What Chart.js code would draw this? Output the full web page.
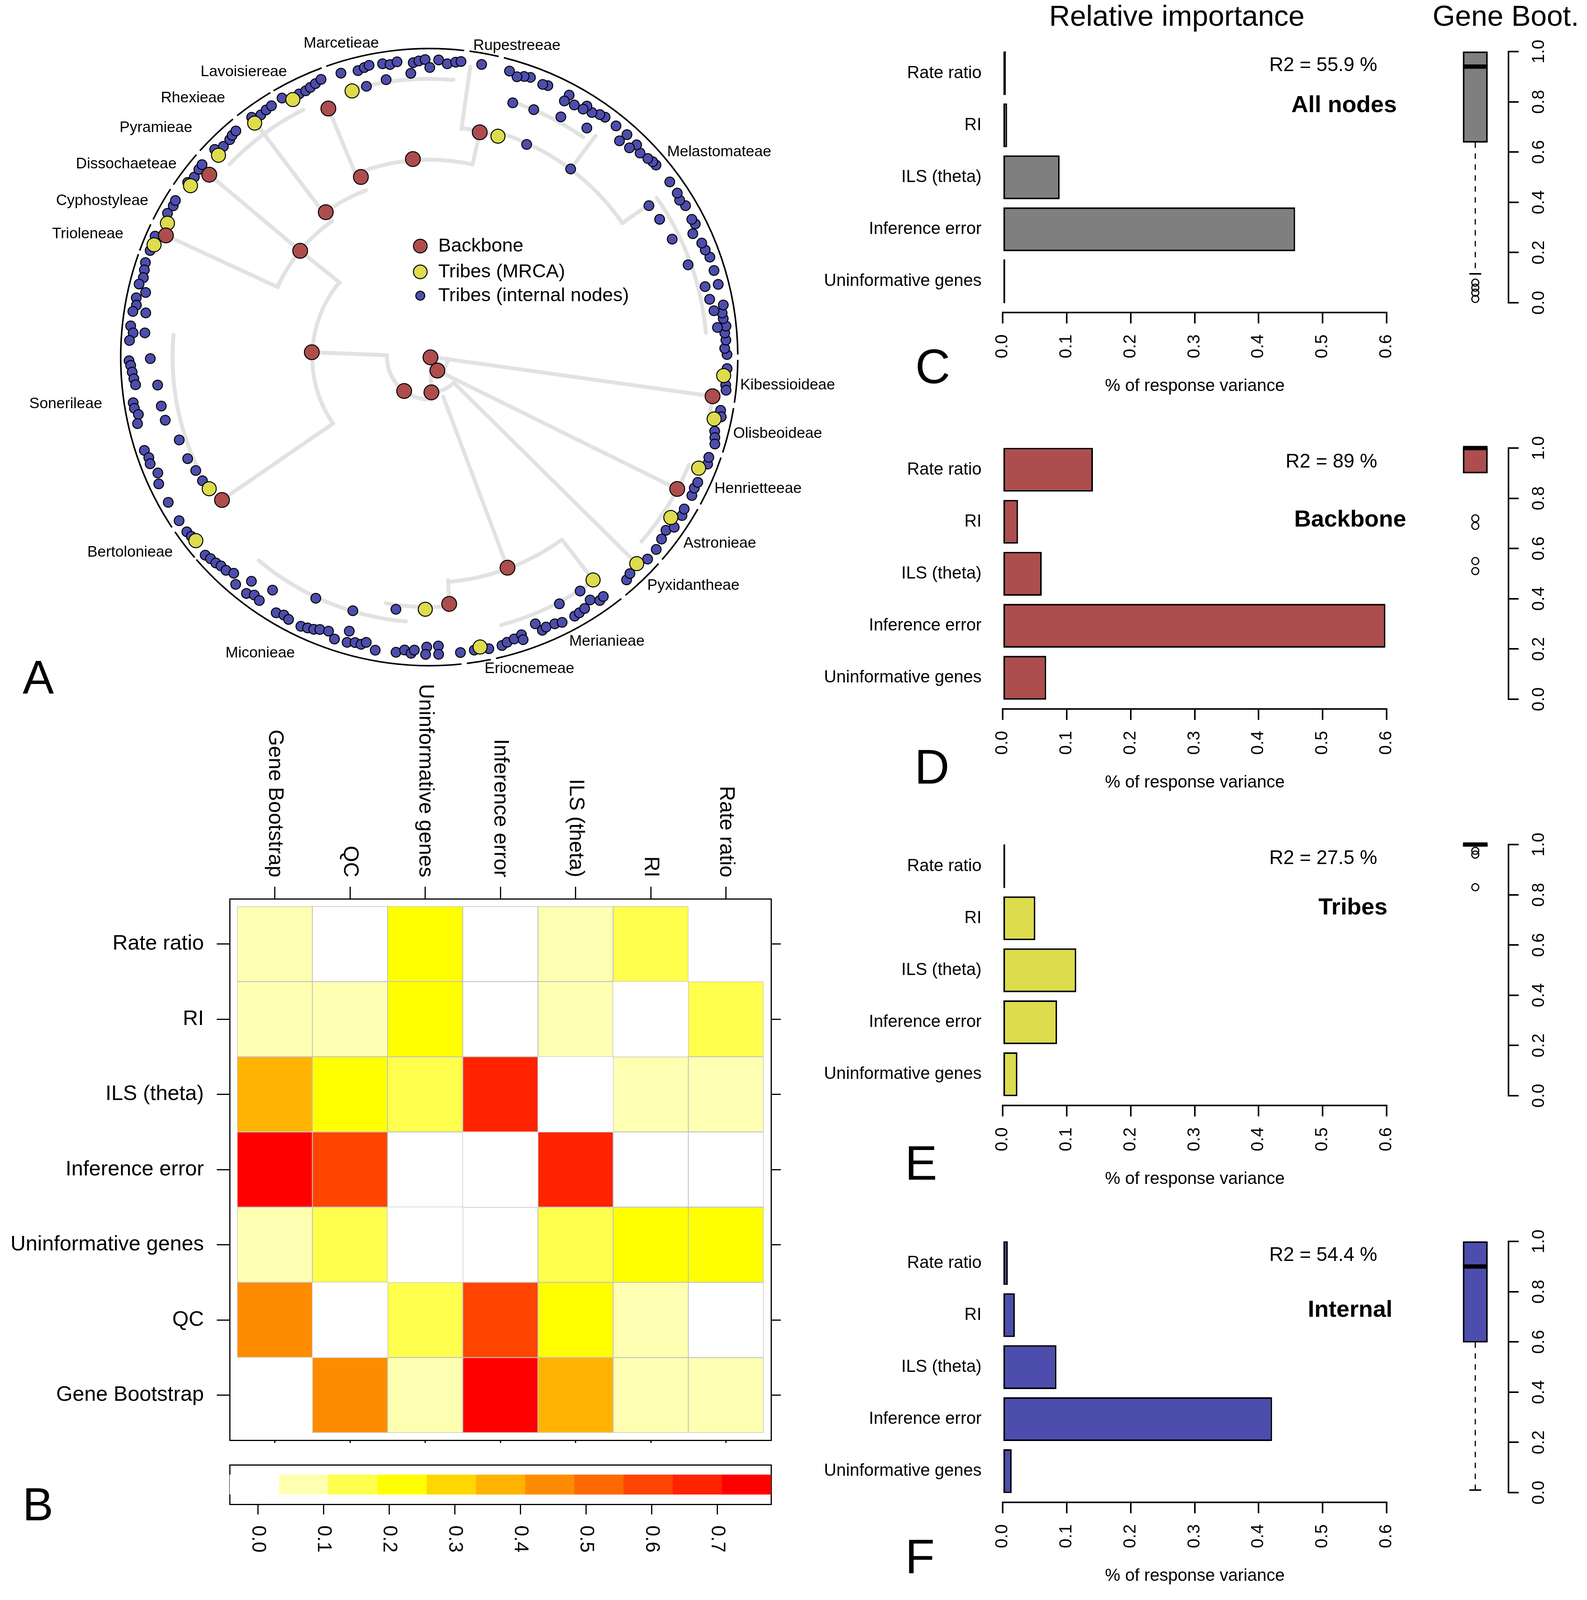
<!DOCTYPE html>
<html><head><meta charset="utf-8">
<script src="https://cdn.jsdelivr.net/npm/chart.js@4.4.1/dist/chart.umd.min.js"></script>
<style>
html,body{margin:0;padding:0;background:#fff;}
body{width:4063px;height:4946px;position:relative;overflow:hidden;}
canvas{position:absolute;}
</style></head><body>
<script>
// ================= DATA =================
// --- Panel C-F: relative importance ---
const barCategories = ['Rate ratio','RI','ILS (theta)','Inference error','Uninformative genes'];
const importanceAll = [0.005, 0.007, 0.089, 0.457, 0.004];
const importanceBackbone = [0.141, 0.024, 0.061, 0.598, 0.068];
const importanceTribes = [0.004, 0.051, 0.115, 0.085, 0.023];
const importanceInternal = [0.008, 0.019, 0.084, 0.421, 0.014];
const r2Text = ['R2 = 55.9 %', 'R2 = 89 %', 'R2 = 27.5 %', 'R2 = 54.4 %'];
const nodeSets = ['All nodes', 'Backbone', 'Tribes', 'Internal'];
// gene bootstrap box stats: [lower whisker, Q1, median, Q3, upper whisker]
const bootAll = [0.115, 0.638, 0.94, 1.0, 1.0];
const bootBackbone = [0.9, 0.9, 1.0, 1.0, 1.0];
const bootTribes = [0.995, 0.995, 1.0, 1.0, 1.0];
const bootInternal = [0.01, 0.598, 0.90, 1.0, 1.0];
const outAll = [0.08, 0.06, 0.04, 0.015];
const outBackbone = [0.72, 0.69, 0.55, 0.51];
const outTribes = [0.975, 0.96, 0.83];
const outInternal = [];

// --- Panel B: correlation heatmap ---
const hmRowNames = ['Rate ratio','RI','ILS (theta)','Inference error','Uninformative genes','QC','Gene Bootstrap'];
const hmColNames = ['Gene Bootstrap','QC','Uninformative genes','Inference error','ILS (theta)','RI','Rate ratio'];
const corRateRatio = [0.06, 0.01, 0.23, 0.00, 0.08, 0.16, null];
const corRI        = [0.05, 0.09, 0.24, 0.01, 0.07, null, 0.16];
const corILS       = [0.38, 0.21, 0.15, 0.68, null, 0.07, 0.08];
const corInfErr    = [0.75, 0.61, 0.02, null, 0.68, 0.01, 0.00];
const corUninf     = [0.08, 0.13, null, 0.02, 0.15, 0.24, 0.23];
const corQC        = [0.45, null, 0.13, 0.61, 0.21, 0.09, 0.01];
const corGeneBoot  = [null, 0.45, 0.08, 0.75, 0.38, 0.05, 0.06];
const hmBreaks = [-0.043, 0.032, 0.107, 0.182, 0.257, 0.332, 0.407, 0.482, 0.557, 0.632, 0.707, 0.782];
const hmColors = ['#ffffff','#ffffb2','#ffff4d','#ffff00','#ffd700','#ffb300','#ff8c00','#ff6900','#ff4500','#ff2300','#ff0000'];

// --- Panels G-K: gene bootstrap vs predictors (backbone nodes) ---
const gbBoot  = [1,1,1,1,1,1,1,1,1,1,1, 0.99, 0.93, 0.90, 0.72, 0.69, 0.55, 0.51];
const xUninf  = [0, 0, 0, 0.005, 0.014, 0.02, 0.059, 0.081, 0.151, 0.321, 0.65, 0.511, 0, 0, 0, 0.25, 0.081, 0.65];
const xInfErr = [0, 0, 0, 0.003, 0.009, 0.012, 0.039, 0.051, 0.071, 0.09, 0.045, 0.27, 0.18, 0.20, 0.21, 0.429, 0.27, 0.551];
const xRate   = [-0.514, -0.51, -0.479, -0.39, -0.375, -0.323, -0.303, -0.30, -0.216, -0.21, -0.157, -0.427, -0.167, -0.167, -0.038, 0.642, -0.177, -0.209];
const xRI     = [0.006, 0.071, 0.075, 0.082, 0.114, 0.129, 0.371, 0.511, 0.53, 0.672, 0.747, 0.365, 1.0, 0.468, 0.139, 0.0, 0.105, 0.506];
const xILS    = [0.012, 0.013, 0.015, 0.017, 0.02, 0.022, 0.024, 0.026, 0.035, 0.103, 0.332, 0.07, 0.04, 0.038, 0.0335, 0.165, 0.082, 0.18];
// linear fits [intercept, slope]
const fitUninf = [0.938, -0.205];
const fitInfErr = [1.026, -0.888];
const fitRate = [0.824, -0.338];
const fitRI = [0.881, 0.0742];
const fitILS = [0.952, -0.654];

// --- Panel A: circular tree, nodes as [angle (deg, clockwise from top), radius (fraction of ring)] ---
const backboneNodes = [[100,0.004],[148.8,0.051],[-143.6,0.137],[176.5,0.115],[-87.6,0.381],[-50.4,0.543],[-35.4,0.579],[-20.7,0.627],[-4.7,0.647],[-22.0,0.873],[12.6,0.750],[-50.2,0.928],[-65.1,0.941],[-124.7,0.817],[175.4,0.806],[159.7,0.731],[118.1,0.911],[97.9,0.927]];
const mrcaNodes = [[-16.1,0.902],[-27.8,0.948],[-36.6,0.949],[-46.1,0.948],[-54.2,0.954],[-62.8,0.954],[-67.7,0.964],[-121.0,0.832],[-128.3,0.964],[-179.1,0.821],[170.1,0.958],[143.8,0.899],[135.0,0.951],[123.7,0.941],[112.5,0.945],[102.3,0.945],[93.6,0.956],[17.2,0.753]];
const ndMarcetieae = [[-17.2,.968],[-13.9,.961],[-12.6,.966],[-11.6,.970],[-9.0,.967],[-7.6,.961],[-6.2,.967],[-3.1,.960],[-2.0,.965],[-0.8,.969],[0.1,.943],[1.8,.968],[3.5,.957],[5.1,.964],[6.1,.968],[-3.7,.926],[-8.8,.914],[-13.0,.905]];
const ndLavoisiereae = [[-29.5,.969],[-26.2,.955],[-24.8,.955],[-23.7,.959],[-22.5,.964],[-21.2,.970]];
const ndRhexieae = [[-36.4,.970],[-34.7,.959],[-33.3,.963],[-32.0,.965]];
const ndPyramieae = [[-45.8,.970],[-44.2,.957],[-42.4,.959],[-41.5,.964],[-40.4,.967]];
const ndDissochaeteae = [[-54.0,.968],[-52.4,.961],[-50.7,.965],[-49.6,.967]];
const ndCyphostyleae = [[-61.1,.969],[-59.3,.965],[-58.2,.968]];
const ndTrioleneae = [[-69.0,.969],[-66.1,.972]];
const ndSonerileae = [[-71.5,.970],[-72.9,.966],[-74.4,.962],[-75.8,.970],[-77.1,.943],[-78.5,.969],[-79.9,.964],[-81.2,.972],[-84.0,.973],[-85.3,.963],[-86.8,.973],[-90.7,.973],[-91.6,.968],[-92.9,.964],[-94.2,.960],[-95.4,.956],[-98.8,.971],[-99.9,.970],[-101.2,.961],[-102.9,.970],[-108.2,.972],[-109.8,.966],[-111.0,.969],[-113.2,.957],[-115.2,.969],[-119.2,.969],[-123.3,.970],
  [-81.1,.930],[-85.1,.925],[-90.3,.904],[-95.9,.885],[-100.4,.883],[-103.5,.880],[-108.4,.854],[-112.9,.850],[-116.0,.842],[-118.7,.838]];
const ndBertolonieae = [[-125.9,.970],[-127.1,.967]];
const ndMiconieae = [[-131.6,.971],[-132.8,.966],[-134.1,.963],[-135.2,.958],[-136.5,.957],[-138.0,.947],[-139.7,.970],[-142.4,.971],[-143.8,.960],[-145.2,.965],[-149.2,.969],[-150.7,.963],[-151.9,.968],[-154.6,.970],[-155.9,.966],[-157.1,.962],[-158.2,.955],[-159.9,.950],[-161.5,.968],[-164.0,.966],[-165.5,.960],[-166.7,.961],[-167.6,.951],[-169.6,.970],[-173.6,.967],[-175.2,.957],[-176.5,.966],[-177.1,.955],[-179.5,.944],[-179.3,.968],[178.2,.941],[178.2,.968],[174.0,.967],
  [-141.7,.930],[-146.2,.913],[-154.9,.867],[-163.8,.929],[-163.3,.862],[-172.5,.828]];
const ndEriocnemeae = [[171.3,.965],[168.5,.969]];
const ndMerianieae = [[165.9,.968],[164.8,.962],[163.3,.958],[161.7,.952],[161.7,.969],[158.4,.934],[157.6,.962],[156.7,.957],[154.9,.959],[153.5,.965],[150.8,.966],[149.7,.964],[148.4,.961],[146.6,.947],[145.1,.966],[144.1,.962],[152.3,.907],[147.3,.905]];
const ndPyxidantheae = [[138.6,.967],[137.3,.959],[132.9,.966]];
const ndAstronieae = [[130.4,.966],[128.2,.958],[126.3,.952],[124.9,.968],[122.2,.968],[120.9,.963]];
const ndHenrietteeae = [[117.9,.963],[116.4,.959],[115.1,.961],[111.1,.967],[109.8,.963]];
const ndOlisbeoideae = [[104.6,.956],[105.8,.962],[107.0,.968],[100.4,.960],[101.6,.966]];
const ndKibessioideae = [[95.4,.965],[96.4,.968],[92.2,.966]];
const ndMelastomateae = [[89.5,.965],[88.3,.958],[86.7,.963],[85.3,.961],[84.0,.967],[82.5,.961],[81.4,.960],[79.9,.968],[80.7,.935],[75.8,.966],[73.0,.965],[70.3,.966],[68.7,.960],[67.2,.958],[64.8,.944],[63.3,.965],[62.2,.962],[59.3,.966],[57.8,.959],[56.4,.965],[53.8,.966],[49.6,.965],[48.7,.964],[47.6,.959],[45.8,.953],[44.2,.964],[41.5,.967],[38.8,.966],[43.6,.941],[41.2,.936],[36.1,.967],[35.0,.964],[33.5,.955],[32.0,.964],[31.7,.949],[29.8,.946],[28.0,.966],[27.7,.942],[23.5,.964],[22.5,.961],[19.8,.968],[18.6,.964],[17.3,.956],[15.6,.967],
  [84.1,.939],[78.3,.928],[75.6,.923],[70.3,.891],[64.0,.876],[59.0,.871],[55.3,.866],[34.4,.904],[28.6,.891],[22.8,.874],[18.1,.871],[24.5,.761],[36.8,.765]];
const ndRupestreeae = [[10.1,.968]];
// tree branches: straight [a0,r0,a1,r1] and arcs [r,a0,a1]
const branchSegs = [[94,.025,97.9,.927],[148.8,.051,118.1,.911],[136.3,.117,135,.931],[160.7,.136,159.7,.731],[-87.6,.381,-87.4,.137],[-124.7,.379,-124.7,.817],[-50.1,.377,-50.4,.542],[-50.4,.542,-50.2,.928],[-65.1,.541,-65.1,.941],[-35.5,.542,-35.5,.578],[-36.1,.578,-36.4,.921],[-21.8,.627,-22.0,.873],[12.6,.647,12.6,.750],[8,.75,8,.955],[55.1,.762,55.1,.87],[36.8,.765,36.8,.9],[175.2,.728,175.4,.806],[144.1,.735,143.8,.899],[100,.004,176.5,.115]];
const branchArcs = [[.137,176.5,272.6],[.115,136.3,176.5],[.06,94,150],[.379,-124.7,-50.1],[.542,-65.1,-35.5],[.578,-36.1,-20.7],[.64,-20.7,12.6],[.75,8,17.2],[.762,17.2,55.1],[.731,144.1,175.2],[.81,175.4,190],[.86,185,220],[.832,-121,-85],[.9,-46,-27],[.902,-16.1,5],[.87,18,35],[.9,55,85],[.899,143.8,165],[.927,97.9,102.3],[.911,112.5,131]];
const tribeNames = ['Marcetieae','Rupestreeae','Lavoisiereae','Rhexieae','Pyramieae','Dissochaeteae','Cyphostyleae','Trioleneae','Sonerileae','Bertolonieae','Miconieae','Eriocnemeae','Merianieae','Pyxidantheae','Astronieae','Henrietteeae','Olisbeoideae','Kibessioideae','Melastomateae'];
const tribeSpan = [[-19.5,6.5],[7.5,13],[-30.3,-20.4],[-38.5,-31],[-48,-39.5],[-56,-49],[-63.5,-57],[-69.8,-64.5],[-123.5,-70.5],[-130.5,-124.5],[174,229],[168.5,173],[141.5,167.5],[132,140.5],[119.5,131],[109,118.5],[99.5,108],[90.5,98.5],[14,89.5]];

// ================= LAYOUT / STYLE =================
const F = "'Liberation Sans', Arial, Helvetica, sans-serif";
const fnt = (s, b) => (b ? 'bold ' : '') + s + 'px ' + F;
Chart.defaults.font.family = F;
Chart.defaults.color = '#000';
const COL = { gray: '#7f7f7f', red: '#ae4d4d', yellow: '#dcdc4d', blue: '#4d4dae', pt: 'rgba(139,0,0,0.7)' };
const tribeLabelAnchor = [[-15.6,1.06,'center'],[8.0,1.024,'left'],[-26.4,1.037,'right'],[-38.1,1.072,'right'],[-45.8,1.071,'right'],[-52.5,1.032,'right'],[-60.8,1.043,'right'],[-68.0,1.069,'right'],[-98.2,1.071,'right'],[-127.4,1.046,'right'],[-155.7,1.058,'right'],[170.0,1.031,'left'],[153.9,1.031,'left'],[136.5,1.026,'left'],[126.4,1.023,'left'],[114.9,1.019,'left'],[104.2,1.016,'left'],[95.2,1.012,'left'],[49.1,1.02,'left']];

const base = { responsive: false, animation: false, devicePixelRatio: 1, events: [],
  plugins: { legend: { display: false }, tooltip: { enabled: false } } };

function makeCanvas(left, top, w, h) {
  const c = document.createElement('canvas');
  c.width = w; c.height = h;
  c.style.cssText = `position:absolute;left:${left}px;top:${top}px;width:${w}px;height:${h}px;`;
  document.body.appendChild(c);
  return c;
}
function axis(pos, min, max, step, o = {}) {
  return {
    type: 'linear', axis: (pos === 'top' || pos === 'bottom') ? 'x' : 'y', position: pos, min, max,
    reverse: !!o.reverse, display: o.display !== false, offset: false,
    ticks: { display: false, stepSize: step, includeBounds: false },
    grid: { display: !!o.tick, offset: false, drawOnChartArea: false, drawTicks: !!o.tick, tickLength: o.tick || 0,
            tickWidth: o.tickW || 3, lineWidth: o.tickW || 3, tickColor: '#000', color: '#000' },
    border: { display: !!o.border, width: o.border || 1, color: '#000' },
    afterFit: (s) => { if (o.size != null) { if (s.isHorizontal()) s.height = o.size; else s.width = o.size; } }
  };
}
function drawText(ctx, t) {
  const [s, x, y, font, align, rot] = t;
  ctx.save(); ctx.font = font; ctx.fillStyle = '#000'; ctx.textAlign = align || 'center'; ctx.textBaseline = 'middle';
  ctx.translate(x, y); if (rot) ctx.rotate(rot * Math.PI / 180); ctx.fillText(s, 0, 0); ctx.restore();
}
function deco(cfg) {
  return {
    id: 'deco',
    beforeDatasetsDraw(chart) { if (cfg.under) { chart.ctx.save(); cfg.under(chart, chart.ctx); chart.ctx.restore(); } },
    afterDraw(chart) {
      const ctx = chart.ctx, a = chart.chartArea;
      (cfg.lines || []).forEach(it => {
        const sc = chart.scales[it.axis], t = sc.ticks;
        const p0 = sc.getPixelForValue(t[0].value), p1 = sc.getPixelForValue(t[t.length - 1].value);
        ctx.save(); ctx.strokeStyle = '#000'; ctx.lineWidth = it.w; ctx.beginPath();
        if (it.side === 'bottom') { ctx.moveTo(p0, a.bottom); ctx.lineTo(p1, a.bottom); }
        else { ctx.moveTo(a.left, p0); ctx.lineTo(a.left, p1); }
        ctx.stroke(); ctx.restore();
      });
      (cfg.ticks || []).forEach(it => {
        const sc = chart.scales[it.axis];
        sc.ticks.forEach((t, i) => {
          const s = it.fmt(t.value, i);
          if (s == null || s === '') return;
          const p = sc.getPixelForValue(t.value);
          let x, y;
          if (it.side === 'bottom') { x = p; y = a.bottom + it.off; }
          else if (it.side === 'top') { x = p; y = a.top - it.off; }
          else if (it.side === 'left') { x = a.left - it.off; y = p; }
          else { x = a.right + it.off; y = p; }
          drawText(ctx, [s, x, y, it.font, it.align, it.rot]);
        });
      });
      (cfg.texts || []).forEach(t => drawText(ctx, t));
      if (cfg.over) { ctx.save(); cfg.over(chart, ctx); ctx.restore(); }
    }
  };
}

// ================= PANEL A: tree =================
(function () {
  const W = 2300, H = 1850, CX = 1098, CY = 914, R = 805;
  const c = makeCanvas(0, 0, W, H);
  const toXY = arr => arr.map(([a, r]) => ({ x: r * Math.sin(a * Math.PI / 180), y: r * Math.cos(a * Math.PI / 180) }));
  const internalNodes = [].concat(ndMarcetieae, ndLavoisiereae, ndRhexieae, ndPyramieae, ndDissochaeteae, ndCyphostyleae,
    ndTrioleneae, ndSonerileae, ndBertolonieae, ndMiconieae, ndEriocnemeae, ndMerianieae, ndPyxidantheae, ndAstronieae,
    ndHenrietteeae, ndOlisbeoideae, ndKibessioideae, ndMelastomateae, ndRupestreeae);
  const pt = (col, r) => ({ pointRadius: r, pointBackgroundColor: col, pointBorderColor: '#000', pointBorderWidth: 2.5 });
  const legendR = [17.5, 17.5, 11.5], legendY = [630, 696, 757];
  new Chart(c, {
    type: 'scatter',
    data: { datasets: [
      Object.assign({ label: 'Backbone', data: toXY(backboneNodes) }, pt(COL.red, 19)),
      Object.assign({ label: 'Tribes (MRCA)', data: toXY(mrcaNodes) }, pt(COL.yellow, 18)),
      Object.assign({ label: 'Tribes (internal nodes)', data: toXY(internalNodes) }, pt(COL.blue, 12.5))
    ] },
    options: Object.assign({}, base, {
      layout: { padding: 0 },
      scales: { x: { type: 'linear', display: false, min: -CX / R, max: (W - CX) / R },
                y: { type: 'linear', display: false, min: (CY - H) / R, max: CY / R } }
    }),
    plugins: [deco({
      under(chart, ctx) {
        const xs = chart.scales.x, ys = chart.scales.y;
        const P = (a, r) => { const t = a * Math.PI / 180; return [xs.getPixelForValue(r * Math.sin(t)), ys.getPixelForValue(r * Math.cos(t))]; };
        const cx = xs.getPixelForValue(0), cy = ys.getPixelForValue(0), unit = xs.getPixelForValue(1) - cx;
        const rad = a => (a - 90) * Math.PI / 180;
        ctx.strokeStyle = '#e2e2e2'; ctx.lineWidth = 10; ctx.lineCap = 'round';
        branchSegs.forEach(([a0, r0, a1, r1]) => { const p = P(a0, r0), q = P(a1, r1); ctx.beginPath(); ctx.moveTo(p[0], p[1]); ctx.lineTo(q[0], q[1]); ctx.stroke(); });
        branchArcs.forEach(([r, a0, a1]) => { ctx.beginPath(); ctx.arc(cx, cy, r * unit, rad(a0), rad(a1)); ctx.stroke(); });
        ctx.strokeStyle = '#000'; ctx.lineWidth = 4; ctx.lineCap = 'butt';
        tribeSpan.forEach(([a0, a1]) => { ctx.beginPath(); ctx.arc(cx, cy, unit, rad(a0), rad(a1)); ctx.stroke(); });
      },
      over(chart, ctx) {
        const xs = chart.scales.x, ys = chart.scales.y;
        tribeNames.forEach((nm, i) => {
          const [a, r, al] = tribeLabelAnchor[i]; const t = a * Math.PI / 180;
          drawText(ctx, [nm, xs.getPixelForValue(r * Math.sin(t)), ys.getPixelForValue(r * Math.cos(t)), fnt(39), al, 0]);
        });
        chart.data.datasets.forEach((ds, i) => {
          ctx.beginPath(); ctx.arc(1076, legendY[i], legendR[i], 0, Math.PI * 2);
          ctx.fillStyle = ds.pointBackgroundColor; ctx.fill(); ctx.lineWidth = 2.5; ctx.strokeStyle = '#000'; ctx.stroke();
          drawText(ctx, [ds.label, 1122, legendY[i], fnt(49), 'left', 0]);
        });
      },
      texts: [['A', 98, 1742, fnt(120), 'center', 0]]
    })]
  });
})();

// ================= PANEL B: heatmap =================
(function () {
  const c = makeCanvas(0, 1700, 2100, 2300);
  const rows = [corRateRatio, corRI, corILS, corInfErr, corUninf, corQC, corGeneBoot];
  const binColor = v => { let k = 0; while (k < hmColors.length - 1 && v >= hmBreaks[k + 1]) k++; return hmColors[k]; };
  const datasets = rows.map((vals, i) => {
    const pts = [], cols = [];
    vals.forEach((v, j) => { if (v != null) { pts.push({ x: j, y: [i - 0.5, i + 0.5] }); cols.push(binColor(v)); } });
    return { data: pts, backgroundColor: cols, borderColor: '#c4c4c4', borderWidth: 1.5, borderSkipped: false,
             grouped: false, categoryPercentage: 1, barPercentage: 1, xAxisID: 'x', yAxisID: 'y' };
  });
  new Chart(c, {
    type: 'bar', data: { datasets },
    options: Object.assign({}, base, {
      layout: { padding: 0 },
      scales: {
        x: axis('bottom', -0.6, 6.6, 1, { tick: 7, tickW: 3, border: 3, size: 313 }),
        x2: axis('top', -0.6, 6.6, 1, { tick: 31, tickW: 3, border: 3, size: 601 }),
        y: axis('left', -0.6, 6.6, 1, { reverse: true, tick: 33, tickW: 3, border: 3, size: 588 }),
        y2: axis('right', -0.6, 6.6, 1, { reverse: true, tick: 25, tickW: 3, border: 3, size: 126 })
      }
    }),
    plugins: [deco({ ticks: [
      { axis: 'y', side: 'left', off: 66, rot: 0, align: 'right', font: fnt(54), fmt: v => hmRowNames[v] },
      { axis: 'x2', side: 'top', off: 55, rot: 90, align: 'right', font: fnt(54), fmt: v => hmColNames[v] }
    ] })]
  });
})();
// colour key
(function () {
  const c = makeCanvas(0, 3700, 2100, 350);
  const datasets = hmColors.map((col, k) => ({ data: [{ y: 0, x: [hmBreaks[k], hmBreaks[k + 1]] }], backgroundColor: col,
    borderWidth: 0, grouped: false, categoryPercentage: 1, barPercentage: 1, xAxisID: 'x', yAxisID: 'y' }));
  new Chart(c, {
    type: 'bar', data: { datasets },
    options: Object.assign({}, base, {
      indexAxis: 'y', layout: { padding: 0 },
      scales: {
        x: axis('bottom', hmBreaks[0], hmBreaks[hmBreaks.length - 1], 0.1, { tick: 26, tickW: 3, border: 3, size: 199 }),
        x2: axis('top', hmBreaks[0], hmBreaks[hmBreaks.length - 1], 0.1, { border: 3, size: 50 }),
        y: axis('left', -0.5, 0.5, 1, { border: 3, size: 588 }),
        y2: axis('right', -0.5, 0.5, 1, { border: 3, size: 126 })
      }
    }),
    plugins: [deco({
      ticks: [{ axis: 'x', side: 'bottom', off: 54, rot: 90, align: 'left', font: fnt(50), fmt: v => v.toFixed(1) }],
      texts: [['B', 97, 159, fnt(118), 'center', 0]]
    })]
  });
})();

// ================= PANELS C-F =================
const panelTop = [0, 1015, 2030, 3046];
const panelLetter = ['C', 'D', 'E', 'F'];
const letterPos = [[338, 947], [336, 957], [308, 956], [305, 948]];
const boldPos = [[1526, 270], [1550, 316], [1502, 294], [1515, 308]];
function barPanel(k, vals, color) {
  const c = makeCanvas(2050, panelTop[k], 1600, 1015);
  const texts = [
    [r2Text[k], 1476, 168, fnt(50), 'right', 0],
    [nodeSets[k], boldPos[k][0], boldPos[k][1], fnt(60, true), 'right', 0],
    ['% of response variance', 1009, 989, fnt(44), 'center', 0],
    [panelLetter[k], letterPos[k][0], letterPos[k][1], fnt(124), 'center', 0]
  ];
  if (k === 0) texts.push(['Relative importance', 963, 46, fnt(74), 'center', 0]);
  new Chart(c, {
    type: 'bar',
    data: { datasets: [{ data: vals.map((v, i) => ({ x: v, y: i })), backgroundColor: color, borderColor: '#000',
      borderWidth: 4, borderSkipped: false, categoryPercentage: 1, barPercentage: 0.842 }] },
    options: Object.assign({}, base, {
      indexAxis: 'y', layout: { padding: { top: 121, right: 100, left: 0, bottom: 0 } },
      scales: {
        x: axis('bottom', 0, 0.6, 0.1, { tick: 28, tickW: 4, border: 4, size: 215 }),
        y: axis('left', -0.5, 4.6, 1, { reverse: true, size: 517 })
      }
    }),
    plugins: [deco({ ticks: [
      { axis: 'y', side: 'left', off: 54, rot: 0, align: 'right', font: fnt(44), fmt: v => barCategories[v] },
      { axis: 'x', side: 'bottom', off: 56, rot: -90, align: 'right', font: fnt(44), fmt: v => v.toFixed(1) }
    ], texts })]
  });
}
function boxPanel(k, st, outs, color) {
  const c = makeCanvas(3650, panelTop[k], 413, 1015);
  const h = 0.185, hc = 0.09;
  const ds = [];
  ds.push({ type: 'line', data: [{ x: 1 - h, y: st[2] }, { x: 1 + h, y: st[2] }], borderColor: '#000', borderWidth: 11, pointRadius: 0, clip: false });
  if (outs.length) ds.push({ type: 'line', showLine: false, data: outs.map(v => ({ x: 1, y: v })), pointRadius: 9,
    pointBorderWidth: 3, pointBorderColor: '#000', pointBackgroundColor: 'rgba(0,0,0,0)', clip: false });
  if (st[0] < st[1]) {
    ds.push({ type: 'line', data: [{ x: 1, y: st[1] }, { x: 1, y: st[0] }], borderColor: '#000', borderWidth: 3, borderDash: [14, 14], pointRadius: 0 });
    ds.push({ type: 'line', data: [{ x: 1 - hc, y: st[0] }, { x: 1 + hc, y: st[0] }], borderColor: '#000', borderWidth: 4, pointRadius: 0, clip: false });
  }
  if (st[4] > st[3]) {
    ds.push({ type: 'line', data: [{ x: 1, y: st[3] }, { x: 1, y: st[4] }], borderColor: '#000', borderWidth: 3, borderDash: [14, 14], pointRadius: 0 });
    ds.push({ type: 'line', data: [{ x: 1 - hc, y: st[4] }, { x: 1 + hc, y: st[4] }], borderColor: '#000', borderWidth: 4, pointRadius: 0, clip: false });
  }
  ds.push({ type: 'bar', data: [{ x: 1, y: [st[1], st[3]] }], backgroundColor: color, borderColor: '#000', borderWidth: 4,
    borderSkipped: false, barThickness: 63, clip: false });
  new Chart(c, {
    type: 'bar', data: { datasets: ds },
    options: Object.assign({}, base, {
      layout: { padding: { left: 42, top: 132, bottom: 240, right: 0 } },
      scales: {
        x: { type: 'linear', display: false, min: 0.5, max: 1.5, offset: false, grid: { offset: false } },
        y: axis('right', 0, 1, 0.2, { tick: 26, tickW: 4, border: 4, size: 201 })
      }
    }),
    plugins: [deco({
      ticks: [{ axis: 'y', side: 'right', off: 79, rot: -90, align: 'center', font: fnt(44), fmt: v => v.toFixed(1) }],
      texts: k === 0 ? [['Gene Boot.', 205, 46, fnt(74), 'center', 0]] : []
    })]
  });
}
barPanel(0, importanceAll, COL.gray);
barPanel(1, importanceBackbone, COL.red);
barPanel(2, importanceTribes, COL.yellow);
barPanel(3, importanceInternal, COL.blue);
boxPanel(0, bootAll, outAll, COL.gray);
boxPanel(1, bootBackbone, outBackbone, COL.red);
boxPanel(2, bootTribes, outTribes, COL.yellow);
boxPanel(3, bootInternal, outInternal, COL.blue);

// ================= PANELS G-K =================
function scatterPanel(p) {
  const c = makeCanvas(p.left, 4150, p.w, 796);
  new Chart(c, {
    type: 'scatter',
    data: { datasets: [
      { type: 'line', data: [{ x: p.xmin, y: p.fit[0] + p.fit[1] * p.xmin }, { x: p.xmax, y: p.fit[0] + p.fit[1] * p.xmax }],
        borderColor: '#454545', borderWidth: 5, borderDash: [18, 13], pointRadius: 0 },
      { data: p.xs.map((x, i) => ({ x, y: gbBoot[i] })), pointRadius: 11, pointBorderWidth: 2, pointBorderColor: '#000',
        pointBackgroundColor: COL.pt }
    ] },
    options: Object.assign({}, base, {
      layout: { padding: { top: 74, right: p.w - p.chartR, left: 0, bottom: 0 } },
      scales: {
        x: axis('bottom', p.xmin, p.xmax, p.step, { tick: 20, tickW: 2, size: 295 }),
        y: axis('left', 0.4904, 1.0196, 0.1, { tick: 22, tickW: 2, size: p.chartL })
      }
    }),
    plugins: [deco({
      lines: [{ axis: 'x', side: 'bottom', w: 2 }, { axis: 'y', side: 'left', w: 2 }],
      ticks: [
        { axis: 'y', side: 'left', off: 63, rot: -90, align: 'center', font: fnt(31), fmt: v => v.toFixed(1) },
        { axis: 'x', side: 'bottom', off: 61, rot: 0, align: 'center', font: fnt(31), fmt: p.fmt }
      ],
      texts: [
        ['Gene Bootstrap', p.chartL - 138, 287, fnt(32), 'center', -90],
        [p.title, (p.chartL + p.chartR) / 2, 642, fnt(32), 'center', 0],
        [p.letter, p.letterX, 740, fnt(124), 'center', 0]
      ]
    })]
  });
}
const f1 = v => v.toFixed(1);
const fRate = v => (Math.abs(v + 0.2) < 1e-9 ? null : v.toFixed(1));
scatterPanel({ left: 0, w: 760, chartL: 163, chartR: 708, xs: xUninf, xmin: -0.026, xmax: 0.676, step: 0.1, fit: fitUninf, fmt: f1, title: 'Uninformative genes (%)', letter: 'G', letterX: 103 });
scatterPanel({ left: 830, w: 760, chartL: 166, chartR: 713, xs: xInfErr, xmin: -0.022, xmax: 0.573, step: 0.1, fit: fitInfErr, fmt: f1, title: 'Inference error', letter: 'H', letterX: 82 });
scatterPanel({ left: 1620, w: 760, chartL: 167, chartR: 712, xs: xRate, xmin: -0.56, xmax: 0.688, step: 0.2, fit: fitRate, fmt: fRate, title: 'Rate ratio', letter: 'I', letterX: 79 });
scatterPanel({ left: 2455, w: 760, chartL: 166, chartR: 712, xs: xRI, xmin: -0.04, xmax: 1.04, step: 0.2, fit: fitRI, fmt: f1, title: 'RI (reticulation index)', letter: 'J', letterX: 72 });
scatterPanel({ left: 3245, w: 800, chartL: 167, chartR: 714, xs: xILS, xmin: 0.004, xmax: 0.345, step: 0.05, fit: fitILS, fmt: (v, i) => (i % 2 === 0 ? v.toFixed(2) : null), title: 'ILS (theta)', letter: 'K', letterX: 105 });
</script>
</body></html>
